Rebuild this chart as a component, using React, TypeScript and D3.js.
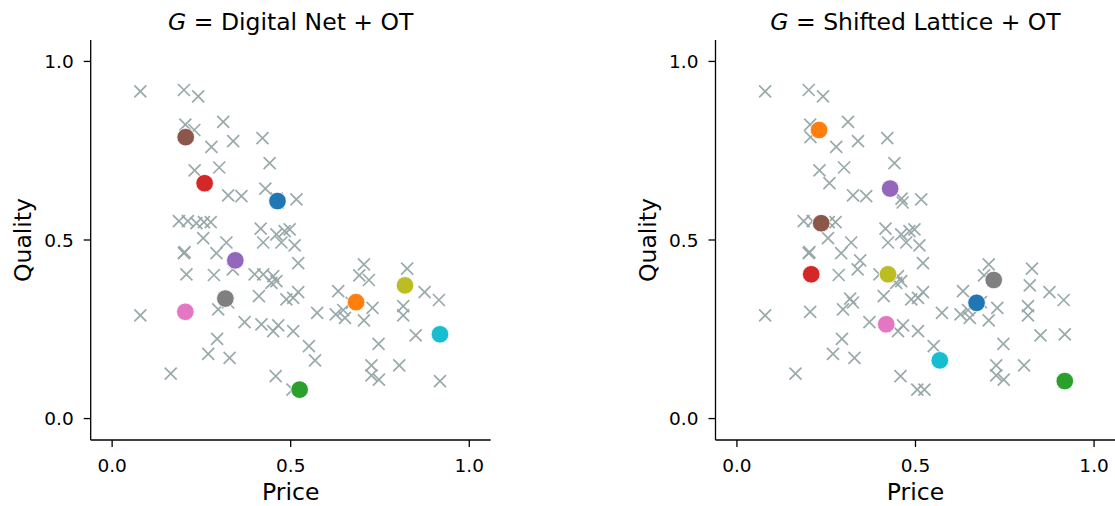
import React from "react";
import * as d3 from "d3";

// Candidate items (gray crosses), shared by both panels
const crossPrice = [
  0.079, 0.201, 0.241, 0.205, 0.230, 0.206, 0.311, 0.339, 0.278, 0.421,
  0.441, 0.231, 0.300, 0.259, 0.325, 0.362, 0.429, 0.461, 0.464, 0.516,
  0.187, 0.212, 0.236, 0.257, 0.276, 0.255, 0.416, 0.460, 0.483, 0.497,
  0.320, 0.423, 0.474, 0.511, 0.201, 0.203, 0.292, 0.345, 0.338, 0.521,
  0.208, 0.285, 0.399, 0.423, 0.451, 0.460, 0.446, 0.705, 0.826, 0.692,
  0.719, 0.820, 0.875, 0.915, 0.521, 0.507, 0.633, 0.671, 0.683, 0.729,
  0.574, 0.626, 0.647, 0.652, 0.705, 0.815, 0.815, 0.317, 0.325, 0.411,
  0.488, 0.205, 0.079, 0.297, 0.371, 0.418, 0.451, 0.465, 0.507, 0.850,
  0.918, 0.294, 0.269, 0.329, 0.164, 0.458, 0.746, 0.551, 0.568, 0.726,
  0.804, 0.726, 0.747, 0.918, 0.505, 0.525,
];
const crossQuality = [
  0.916, 0.920, 0.902, 0.823, 0.808, 0.788, 0.831, 0.777, 0.761, 0.785,
  0.715, 0.695, 0.703, 0.659, 0.625, 0.623, 0.644, 0.616, 0.605, 0.614,
  0.553, 0.553, 0.547, 0.550, 0.550, 0.505, 0.532, 0.516, 0.525, 0.530,
  0.493, 0.493, 0.493, 0.485, 0.463, 0.466, 0.463, 0.443, 0.418, 0.435,
  0.404, 0.402, 0.404, 0.404, 0.399, 0.385, 0.380, 0.432, 0.420, 0.401,
  0.388, 0.373, 0.354, 0.332, 0.354, 0.338, 0.357, 0.324, 0.326, 0.310,
  0.296, 0.292, 0.304, 0.282, 0.275, 0.315, 0.289, 0.336, 0.325, 0.343,
  0.334, 0.299, 0.289, 0.306, 0.270, 0.264, 0.245, 0.261, 0.245, 0.233,
  0.236, 0.223, 0.181, 0.170, 0.126, 0.119, 0.209, 0.203, 0.163, 0.149,
  0.149, 0.121, 0.109, 0.105, 0.081, 0.081,
];

// Selected items, one per colour (tab10 order)
const netPrice = [0.463, 0.683, 0.525, 0.259, 0.345, 0.206, 0.205, 0.317, 0.820, 0.918];
const netQuality = [0.609, 0.326, 0.081, 0.659, 0.443, 0.788, 0.299, 0.336, 0.373, 0.236];
const latPrice = [0.671, 0.230, 0.918, 0.208, 0.429, 0.236, 0.418, 0.719, 0.423, 0.568];
const latQuality = [0.324, 0.808, 0.105, 0.404, 0.644, 0.547, 0.264, 0.388, 0.404, 0.163];

const titles = ["Digital Net + OT", "Shifted Lattice + OT"];
const tickValues = [0, 0.5, 1.0];
const colors = ["#1f77b4", "#ff7f0e", "#2ca02c", "#d62728", "#9467bd", "#8c564b", "#e377c2", "#7f7f7f", "#bcbd22", "#17becf"];

const W = 1115, H = 506;
const PW = 400, PH = 400;
const FONT = "DejaVu Sans, Verdana, sans-serif";

const x = d3.scaleLinear().domain([-0.06, 1.06]).range([0, PW]);
const y = d3.scaleLinear().domain([-0.06, 1.06]).range([PH, 0]);
const fmt = d3.format(".1f");

function Panel({ ox, oy, title, px, py }: { ox: number; oy: number; title: string; px: number[]; py: number[] }) {
  const s = 6;
  return (
    <g transform={`translate(${ox},${oy})`}>
      <text x={PW / 2} y={-10} textAnchor="middle" fontFamily={FONT} fontSize={23.5} fill="#000">
        <tspan fontStyle="italic">G</tspan>
        <tspan> = {title}</tspan>
      </text>
      {crossPrice.map((p, i) => {
        const cx = x(p), cy = y(crossQuality[i]);
        return (
          <path key={i} d={`M${cx - s},${cy - s}L${cx + s},${cy + s}M${cx - s},${cy + s}L${cx + s},${cy - s}`}
            stroke="#95a5a6" strokeWidth={1.7} fill="none" opacity={0.95} />
        );
      })}
      {px.map((p, i) => (
        <circle key={i} cx={x(p)} cy={y(py[i])} r={8.8} fill={colors[i]} stroke="#fff" strokeWidth={0.8} />
      ))}
      <line x1={0} y1={0} x2={0} y2={PH} stroke="#000" strokeWidth={1.3} />
      <line x1={0} y1={PH} x2={PW} y2={PH} stroke="#000" strokeWidth={1.3} />
      {tickValues.map((t) => (
        <g key={"x" + t}>
          <line x1={x(t)} x2={x(t)} y1={PH} y2={PH + 7} stroke="#000" strokeWidth={1.3} />
          <text x={x(t)} y={PH + 32} textAnchor="middle" fontFamily={FONT} fontSize={18.5} fill="#000">{fmt(t)}</text>
        </g>
      ))}
      {tickValues.map((t) => (
        <g key={"y" + t}>
          <line x1={-7} x2={0} y1={y(t)} y2={y(t)} stroke="#000" strokeWidth={1.3} />
          <text x={-17} y={y(t) + 6.5} textAnchor="end" fontFamily={FONT} fontSize={18.5} fill="#000">{fmt(t)}</text>
        </g>
      ))}
      <text x={PW / 2} y={PH + 60} textAnchor="middle" fontFamily={FONT} fontSize={23.5} fill="#000">Price</text>
      <text transform={`translate(${-60},${PH / 2}) rotate(-90)`} textAnchor="middle" fontFamily={FONT} fontSize={23.5} fill="#000">Quality</text>
    </g>
  );
}

export default function App() {
  return (
    <svg width={W} height={H} style={{ position: "absolute", left: 0, top: 0, background: "#fff" }}>
      <rect width={W} height={H} fill="#fff" />
      <Panel ox={90.7} oy={40} title={titles[0]} px={netPrice} py={netQuality} />
      <Panel ox={715.5} oy={40} title={titles[1]} px={latPrice} py={latQuality} />
    </svg>
  );
}
